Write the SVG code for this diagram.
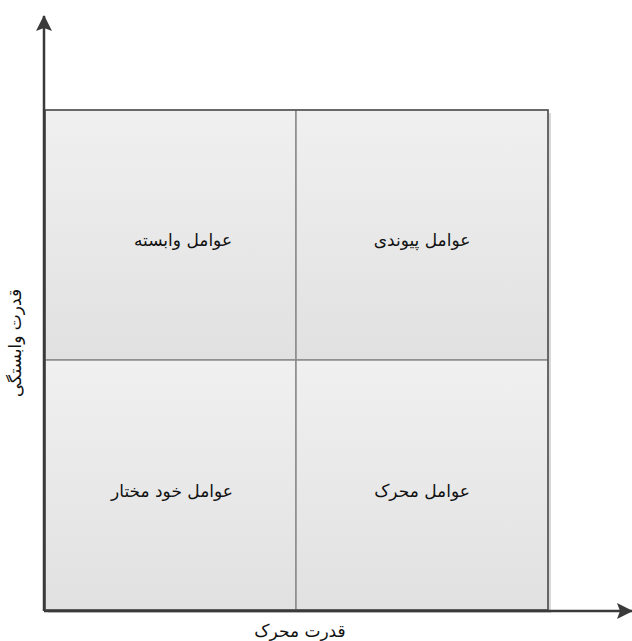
<svg xmlns="http://www.w3.org/2000/svg" width="632" height="641" viewBox="0 0 632 641">
<defs>
<linearGradient id="g" x1="0" y1="0" x2="0" y2="1">
<stop offset="0" stop-color="#f0f0f0"/>
<stop offset="1" stop-color="#e1e1e1"/>
</linearGradient>
<marker id="ah2" viewBox="0 0 16 16" refX="15" refY="8" markerWidth="16" markerHeight="16" orient="auto" markerUnits="userSpaceOnUse">
<path d="M0,0 L16,8 L0,16 L3,8 Z" fill="#3a3a3a"/>
</marker>
</defs>
<style>
.box{fill:url(#g);stroke:#8a8a8a;stroke-width:1.5}
.sh{fill:#d8d8d8}
.lbl{font-family:"DejaVu Sans","Noto Sans",sans-serif;font-size:17px;fill:#111;text-anchor:middle}
.ax{stroke:#3a3a3a;stroke-width:2.5;fill:none}
</style>
<g id="shadow">
<rect class="sh" x="48" y="113" width="503" height="500"/>
</g>
<g id="n1"><rect class="box" x="45" y="110" width="251" height="250"/><text class="lbl" x="183" y="246" direction="rtl">عوامل وابسته</text></g>
<g id="n2"><rect class="box" x="296" y="110" width="252" height="250"/><text class="lbl" x="422" y="246" direction="rtl">عوامل پیوندی</text></g>
<g id="n3"><rect class="box" x="45" y="360" width="251" height="250"/><text class="lbl" x="172" y="497" direction="rtl">عوامل خود مختار</text></g>
<g id="n4"><rect class="box" x="296" y="360" width="252" height="250"/><text class="lbl" x="422" y="497" direction="rtl">عوامل محرک</text></g>
<rect x="45" y="110" width="503" height="500" fill="none" stroke="#555" stroke-width="1.5"/>
<g id="connectors">
<line class="ax" x1="44" y1="611" x2="44" y2="16" marker-end="url(#ah2)"/>
<line class="ax" x1="44" y1="611" x2="632" y2="611" marker-end="url(#ah2)"/>
</g>
<text class="lbl" x="300" y="637" direction="rtl">قدرت محرک</text>
<text class="lbl" x="0" y="0" direction="rtl" transform="translate(21,343) rotate(-90)">قدرت وابستگی</text>
</svg>
